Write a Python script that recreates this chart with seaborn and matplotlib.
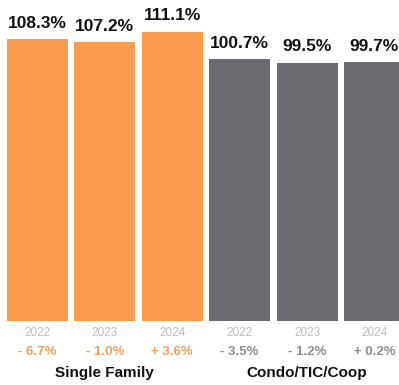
import matplotlib
matplotlib.use("Agg")
import matplotlib.pyplot as plt
import matplotlib.transforms as mtransforms
import seaborn as sns
import pandas as pd

groups = ["Single Family", "Single Family", "Single Family",
          "Condo/TIC/Coop", "Condo/TIC/Coop", "Condo/TIC/Coop"]
years = ["2022", "2023", "2024", "2022", "2023", "2024"]
values = [108.3, 107.2, 111.1, 100.7, 99.5, 99.7]
value_labels = ["108.3%", "107.2%", "111.1%", "100.7%", "99.5%", "99.7%"]
changes = ["- 6.7%", "- 1.0%", "+ 3.6%", "- 3.5%", "- 1.2%", "+ 0.2%"]
group_names = ["Single Family", "Condo/TIC/Coop"]

ORANGE = "#F99C50"
GREY = "#6C6A71"
palette = {"Single Family": ORANGE, "Condo/TIC/Coop": GREY}
change_colors = {"Single Family": "#F5A15E", "Condo/TIC/Coop": "#8E8E8E"}

df = pd.DataFrame({"group": groups, "year": years, "value": values})
df["key"] = df["group"] + " " + df["year"]
order = list(df["key"])

sns.set_theme(style="white")
plt.rcParams["font.family"] = ["Liberation Sans", "DejaVu Sans"]

fig = plt.figure(figsize=(3.99, 3.85), dpi=100)
ax = fig.add_axes([0, 64 / 385, 1, 321 / 385])

sns.barplot(data=df, x="key", y="value", hue="group", order=order,
            palette=palette, width=0.905, legend=False, ax=ax,
            saturation=1, edgecolor="none")

ax.set_xlim(-0.556, 5.364)
ax.set_ylim(2, 123.1)

# value labels
label_map = dict(zip(order, value_labels))
for cont in ax.containers:
    labs = []
    for bar in cont:
        idx = int(round(bar.get_x() + bar.get_width() / 2))
        labs.append(value_labels[idx])
    ax.bar_label(cont, labels=labs, padding=6, fontsize=12.5,
                 fontweight="bold", color="#111111")

ax.set_xticks(range(len(years)))
ax.set_xticklabels(years, fontsize=8.5, color="#BDBDBD")
ax.tick_params(axis="x", length=0, pad=4)
ax.set_yticks([])
ax.set_xlabel("")
ax.set_ylabel("")
for s in ax.spines.values():
    s.set_visible(False)

trans = mtransforms.blended_transform_factory(ax.transData, ax.transAxes)
for i, (g, c) in enumerate(zip(groups, changes)):
    ax.text(i, -0.097, c, transform=trans, ha="center", va="center",
            fontsize=9.5, fontweight="bold", color=change_colors[g])

for gi, g in enumerate(group_names):
    xs = [i for i, gg in enumerate(groups) if gg == g]
    xc = sum(xs) / len(xs)
    ax.text(xc, -0.163, g, transform=trans, ha="center", va="center",
            fontsize=11, fontweight="bold", color="#111111")

fig.savefig("out.png", dpi=100)
